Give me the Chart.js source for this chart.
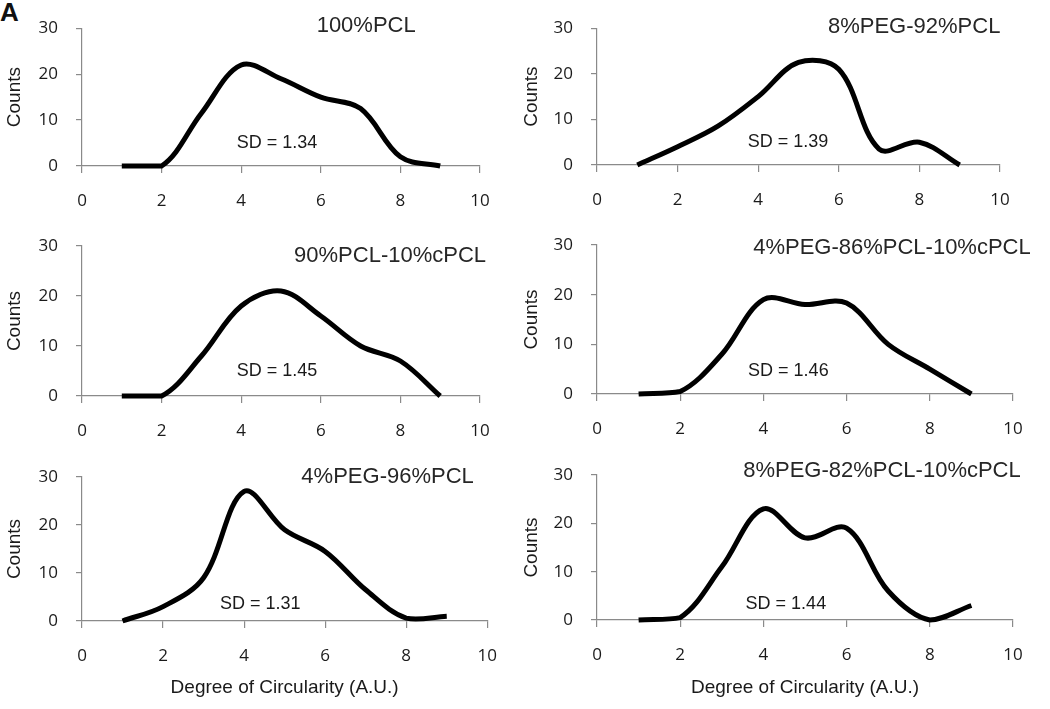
<!DOCTYPE html>
<html>
<head>
<meta charset="utf-8">
<script src="https://cdn.jsdelivr.net/npm/chart.js@4/dist/chart.umd.min.js"></script>
<style>
  html, body { margin: 0; padding: 0; background: #fff; }
  #page { position: relative; width: 1050px; height: 709px; overflow: hidden; }
  .panel { position: absolute; }
  .letter {
    position: absolute; left: 0; top: -3px;
    font: bold 26px 'Liberation Sans', Arial, sans-serif; color: #111;
  }
</style>
</head>
<body>
<div id="page">
  <div class="letter">A</div>
</div>
<script>
// Data
const degrees = [1, 2, 3, 4, 5, 6, 7, 8, 9];

const pcl100 = [0, 0, 11.5, 22, 19, 15, 12.5, 2, 0];
const peg8Pcl92 = [0, 4, 8.5, 15, 22.5, 21, 3.5, 5, 0];
const pcl90Cpcl10 = [0, 0, 8, 18, 21, 16, 10, 7, 0];
const peg4Pcl86Cpcl10 = [0, 0.5, 8, 19, 18, 18.3, 10, 5, 0];
const peg4Pcl96 = [0, 3, 9, 27, 19, 14.5, 6.5, 0.6, 1];
const peg8Pcl82Cpcl10 = [0, 0.5, 11, 23, 17, 19, 6, 0, 3];

const panelTitles = ['100%PCL', '8%PEG-92%PCL', '90%PCL-10%cPCL',
  '4%PEG-86%PCL-10%cPCL', '4%PEG-96%PCL', '8%PEG-82%PCL-10%cPCL'];
const sdValues = ['1.34', '1.39', '1.45', '1.46', '1.31', '1.44'];
const series = [pcl100, peg8Pcl92, pcl90Cpcl10, peg4Pcl86Cpcl10, peg4Pcl96, peg8Pcl82Cpcl10];

const xTicks = [0, 2, 4, 6, 8, 10];
const yTicks = [0, 10, 20, 30];
const yLabel = 'Counts';
const xLabel = 'Degree of Circularity (A.U.)';

// Layout of each panel: box on the page + plot area, and where texts sit (in data units)
const layout = [
  { box: [0, 0, 515, 215], plot: [82, 480, 14, 166], title: [7.14, 30.6], sd: [4.9, 5.1] },
  { box: [517, 0, 533, 215], plot: [597, 1000, 14, 165], title: [7.87, 30.2], sd: [4.74, 5] },
  { box: [0, 215, 515, 230], plot: [82, 480, 246, 396], title: [7.74, 28], sd: [4.9, 5] },
  { box: [517, 215, 533, 230], plot: [597, 1013, 245, 394], title: [7.09, 29.4], sd: [4.6, 4.6] },
  { box: [0, 445, 515, 264], plot: [82, 493, 477, 621], title: [7.54, 30], sd: [4.4, 3.5] },
  { box: [517, 445, 533, 264], plot: [597, 1013, 475, 620], title: [6.85, 30.8], sd: [4.54, 3.3] }
];

const axisGray = '#8a8a8a';
const textColor = '#1a1a1a';

// Draw the panel title and the SD note
const panelText = {
  id: 'panelText',
  afterDraw(chart, args, opts) {
    const { ctx, scales: { x, y } } = chart;
    ctx.save();
    ctx.fillStyle = '#262626';
    ctx.textAlign = 'center';
    ctx.textBaseline = 'middle';
    ctx.font = '22px "Liberation Sans", Arial, sans-serif';
    ctx.fillText(opts.title, x.getPixelForValue(opts.titleAt[0]), y.getPixelForValue(opts.titleAt[1]));
    ctx.fillStyle = textColor;
    ctx.font = '18px "Liberation Sans", Arial, sans-serif';
    ctx.fillText('SD = ' + opts.sd, x.getPixelForValue(opts.sdAt[0]), y.getPixelForValue(opts.sdAt[1]));
    ctx.restore();
  }
};

const page = document.getElementById('page');

series.forEach((values, i) => {
  const lay = layout[i];
  const [bl, bt, bw, bh] = lay.box;
  const [pl, pr, pt, pb] = lay.plot;
  const isBottom = i >= 4;

  const holder = document.createElement('div');
  holder.className = 'panel';
  holder.style.left = bl + 'px';
  holder.style.top = bt + 'px';
  holder.style.width = bw + 'px';
  holder.style.height = bh + 'px';
  const canvas = document.createElement('canvas');
  holder.append(canvas);
  page.append(holder);

  new Chart(canvas, {
    type: 'line',
    data: {
      datasets: [{
        data: degrees.map((d, k) => ({ x: d, y: values[k] })),
        borderColor: '#000',
        borderWidth: 5,
        pointRadius: 0,
        tension: 0.35,
        fill: false,
        clip: false
      }]
    },
    options: {
      responsive: true,
      maintainAspectRatio: false,
      animation: false,
      events: [],
      layout: {
        padding: { top: pt - bt, right: bl + bw - pr, left: 0, bottom: 0 }
      },
      plugins: {
        legend: { display: false },
        tooltip: { enabled: false },
        panelText: {
          title: panelTitles[i],
          titleAt: lay.title,
          sd: sdValues[i],
          sdAt: lay.sd
        }
      },
      scales: {
        x: {
          type: 'linear',
          min: xTicks[0],
          max: xTicks[xTicks.length - 1],
          afterBuildTicks: s => { s.ticks = xTicks.map(v => ({ value: v })); },
          afterFit: s => { s.height = bt + bh - pb; },
          ticks: {
            color: textColor,
            padding: 18,
            maxRotation: 0,
            font: { family: '"Open Sans", sans-serif', size: 17 }
          },
          grid: {
            drawOnChartArea: false,
            drawTicks: true,
            tickLength: 7,
            color: axisGray,
            lineWidth: 1.2
          },
          border: { color: axisGray, width: 1.2 },
          title: {
            display: isBottom,
            text: xLabel,
            color: textColor,
            font: { family: '"Liberation Sans", Arial, sans-serif', size: 19 },
            padding: { top: 4, bottom: 10 }
          }
        },
        y: {
          type: 'linear',
          min: yTicks[0],
          max: yTicks[yTicks.length - 1],
          afterBuildTicks: s => { s.ticks = yTicks.map(v => ({ value: v })); },
          afterFit: s => { s.width = pl - bl; },
          ticks: {
            color: textColor,
            padding: 18,
            font: { family: '"Open Sans", sans-serif', size: 17 }
          },
          grid: {
            drawOnChartArea: false,
            drawTicks: true,
            tickLength: 6,
            color: axisGray,
            lineWidth: 1.2
          },
          border: { color: axisGray, width: 1.2 },
          title: {
            display: true,
            text: yLabel,
            color: textColor,
            font: { family: '"Liberation Sans", Arial, sans-serif', size: 19 },
            padding: { top: 3.6, bottom: 0 }
          }
        }
      }
    },
    plugins: [panelText]
  });
});
</script>
</body>
</html>
